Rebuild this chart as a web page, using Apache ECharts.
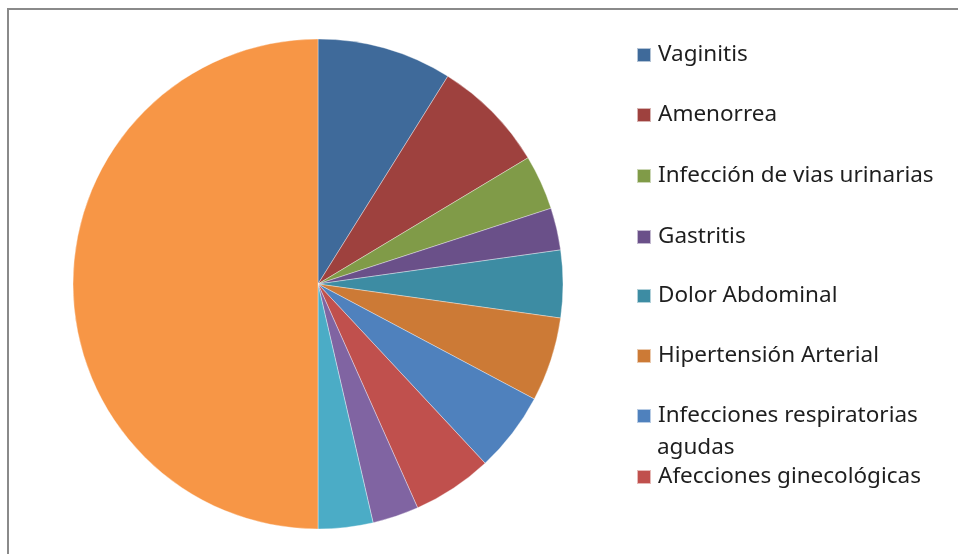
<!DOCTYPE html>
<html>
<head>
<meta charset="utf-8">
<script src="https://cdn.jsdelivr.net/npm/echarts@6/dist/echarts.min.js"></script>
<style>
  html, body { margin: 0; padding: 0; background: #fff; }
  #main { width: 958px; height: 554px; }
</style>
</head>
<body>
<div id="main"></div>
<script>
// nombres de las categorias (las 3 ultimas no salen en la leyenda)
var categorias = ['Vaginitis', 'Amenorrea', 'Infección de vias urinarias', 'Gastritis',
    'Dolor Abdominal', 'Hipertensión Arterial', 'Infecciones respiratorias',
    'Afecciones ginecológicas', 'Categoría 9', 'Categoría 10', 'Categoría 11'];
var valores = [32, 27, 13, 10, 16, 20, 19, 19, 11, 13, 180];
var colores = ['#3F6A9A', '#9E413E', '#809B48', '#6A5089', '#3D8CA3', '#CC7A36',
    '#4F81BD', '#C0504D', '#8064A2', '#4BACC6', '#F79646'];
var enLeyenda = 8;

var myChart = echarts.init(document.getElementById('main'));

var datos = categorias.map(function(n, i) {
    return { name: n, value: valores[i], itemStyle: { color: colores[i] } };
});

// una leyenda por item para controlar la posicion vertical
var centros = [55, 115, 176, 237, 296, 356, 416, 477];
var leyendas = [];
for (var i = 0; i < enLeyenda; i++) {
    leyendas.push({
        data: [categorias[i]],
        left: 636,
        top: centros[i] - 13,
        padding: 0,
        orient: 'vertical',
        itemWidth: 14,
        itemHeight: 14,
        icon: 'rect',
        selectedMode: false,
        textStyle: { fontFamily: 'Noto Sans', fontSize: 22.5, color: '#1e1e1e', height: 26, lineHeight: 26, padding: [0, 0, 0, 2] }
    });
}

myChart.setOption({
    animation: false,
    legend: leyendas,
    graphic: [
        { type: 'line', shape: { x1: 8, y1: 9, x2: 958, y2: 9 }, style: { stroke: '#8a8a8a', lineWidth: 2 } },
        { type: 'line', shape: { x1: 8, y1: 8, x2: 8, y2: 554 }, style: { stroke: '#8a8a8a', lineWidth: 2 } },
        { type: 'text', left: 657, top: 436, style: { text: 'agudas', font: '22.5px "Noto Sans"', fill: '#1e1e1e' } }
    ],
    series: [{
        type: 'pie',
        center: [318, 284],
        radius: 245,
        startAngle: 90,
        clockwise: true,
        label: { show: false },
        labelLine: { show: false },
        itemStyle: { borderColor: 'rgba(255,255,255,0.6)', borderWidth: 0.6 },
        emphasis: { disabled: true },
        data: datos
    }]
});
</script>
</body>
</html>
